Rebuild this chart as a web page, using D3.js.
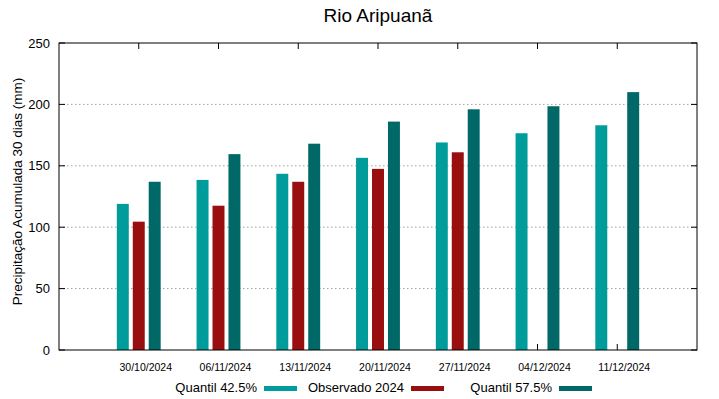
<!DOCTYPE html>
<html>
<head>
    <meta charset="UTF-8" />
    <title>Rio Aripuanã</title>
    <style>
        body { margin: 0; background: #fff; }
        svg { font-family: "Liberation Sans", Arial, sans-serif; }
        .grid line { stroke: #a0a0a0; stroke-dasharray: 1.5,2.5; stroke-width: 1; }
    </style>
    <script src="https://cdn.jsdelivr.net/npm/d3@7"></script>
</head>
<body>
<div id="chart"></div>
<script>
    // data
    let dates = ["30/10/2024", "06/11/2024", "13/11/2024", "20/11/2024", "27/11/2024", "04/12/2024", "11/12/2024"];
    let q425 = [119, 138.5, 143.5, 156.5, 169, 176.5, 183];
    let obs2024 = [104.5, 117.5, 137, 147.5, 161, null, null];
    let q575 = [137, 159.5, 168, 186, 196, 198.5, 210];
    let yTicks = [0, 50, 100, 150, 200, 250];

    let series = [
        { name: "Quantil 42.5%", values: q425, color: "#009b9b", off: -0.2 },
        { name: "Observado 2024", values: obs2024, color: "#990e0e", off: 0 },
        { name: "Quantil 57.5%", values: q575, color: "#006866", off: 0.2 }
    ];

    let W = 719, H = 399;
    let margin = { top: 43, right: 22, bottom: 49, left: 59 };
    let width = W - margin.left - margin.right,
        height = H - margin.top - margin.bottom;

    let svg = d3.select("#chart").append("svg")
        .attr("width", W).attr("height", H);

    let x = d3.scaleLinear().domain([-1, dates.length]).range([0, width]);
    let y = d3.scaleLinear().domain([0, 250]).range([height, 0]);
    let bw = x(0.15) - x(0);

    let g = svg.append("g").attr("transform", `translate(${margin.left},${margin.top})`);

    // grid
    g.append("g").attr("class", "grid")
        .selectAll("line").data(yTicks.filter(d => d > 0 && d < 250)).enter()
        .append("line")
        .attr("x1", 0).attr("x2", width)
        .attr("y1", d => y(d)).attr("y2", d => y(d));

    // x ticks + labels (drawn under the bars, like gnuplot)
    let xt = g.append("g");
    dates.forEach((d, i) => {
        xt.append("line").attr("x1", x(i)).attr("x2", x(i)).attr("y1", height).attr("y2", height - 6).attr("stroke", "#000");
        xt.append("line").attr("x1", x(i)).attr("x2", x(i)).attr("y1", 0).attr("y2", 6).attr("stroke", "#000");
        xt.append("text").attr("x", x(i) + 7).attr("y", height + 21)
            .attr("text-anchor", "middle").attr("font-size", 10.5).text(d);
    });

    // bars
    series.forEach(s => {
        g.append("g").selectAll("rect")
            .data(s.values.map((v, i) => ({ v: v, i: i })).filter(d => d.v != null))
            .enter().append("rect")
            .attr("x", d => x(d.i + s.off) - bw / 2)
            .attr("width", bw)
            .attr("y", d => y(d.v))
            .attr("height", d => height - y(d.v))
            .attr("fill", s.color);
    });

    // y axis ticks (inward both sides)
    let yt = g.append("g");
    yTicks.forEach(t => {
        yt.append("line").attr("x1", 0).attr("x2", 6).attr("y1", y(t)).attr("y2", y(t)).attr("stroke", "#000");
        yt.append("line").attr("x1", width - 6).attr("x2", width).attr("y1", y(t)).attr("y2", y(t)).attr("stroke", "#000");
        yt.append("text").attr("x", -9).attr("y", y(t)).attr("dy", "0.35em")
            .attr("text-anchor", "end").attr("font-size", 13).text(t);
    });

    // frame
    g.append("rect").attr("width", width).attr("height", height)
        .attr("fill", "none").attr("stroke", "#000").attr("stroke-width", 1);

    // title
    svg.append("text").attr("x", margin.left + width / 2).attr("y", 22)
        .attr("text-anchor", "middle").attr("font-size", 19).text("Rio Aripuanã");

    // y label
    svg.append("text")
        .attr("transform", `translate(22,${margin.top + height / 2 - 5}) rotate(-90)`)
        .attr("text-anchor", "middle").attr("font-size", 13.5)
        .text("Precipitação Acumulada 30 dias (mm)");

    // legend
    let legX = [257, 404, 552];
    let leg = svg.append("g");
    series.forEach((s, i) => {
        leg.append("text").attr("x", legX[i]).attr("y", 392)
            .attr("text-anchor", "end").attr("font-size", 13).text(s.name);
        leg.append("rect").attr("x", legX[i] + 7).attr("y", 386)
            .attr("width", 33).attr("height", 5).attr("fill", s.color);
    });
</script>
</body>
</html>
